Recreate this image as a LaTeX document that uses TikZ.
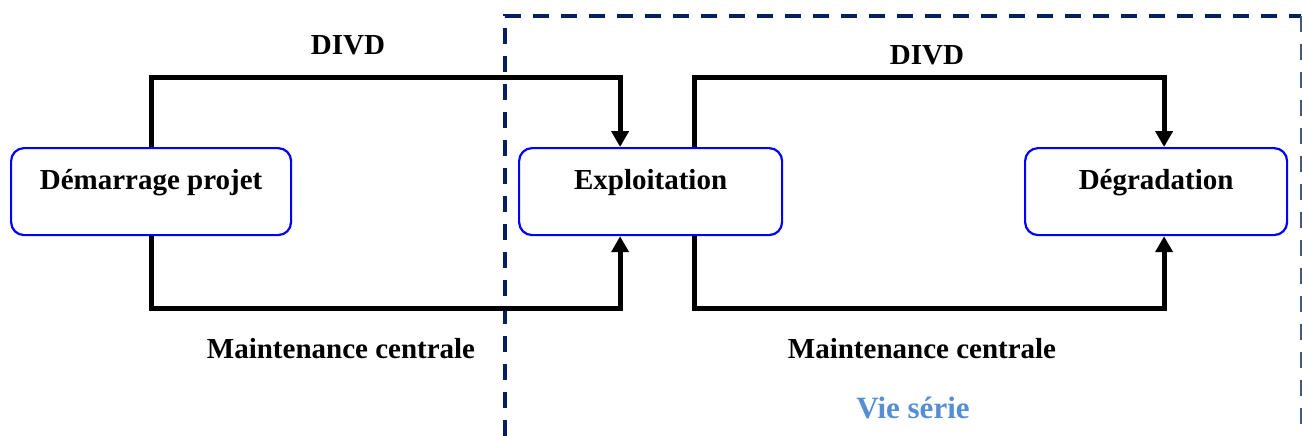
\documentclass[tikz,border=0pt]{standalone}
\usepackage{fontspec}
\setmainfont{Liberation Serif}
\usetikzlibrary{arrows.meta}
\definecolor{navyline}{HTML}{002060}
\definecolor{boxblue}{HTML}{0000FF}
\definecolor{vieblue}{HTML}{558ED5}
\tikzset{
  stage/.style={draw=boxblue, line width=2.2pt, rounded corners=13pt, inner sep=0pt,
    minimum width=#1, text height=41pt, text depth=46pt,
    font=\fontsize{29}{34}\selectfont\bfseries, anchor=north west},
  conn/.style={line width=5pt, line join=miter},
  arr/.style={conn, -{Triangle[length=16pt 0,width=17pt 0]}},
  lbl/.style={font=\fontsize{29}{34}\selectfont\bfseries, anchor=base, inner sep=0pt},
  frame/.style={draw=navyline, line width=3.5pt, dash pattern=on 16pt off 12pt}
}
\begin{document}
\begin{tikzpicture}[x=1pt,y=-1pt]
\useasboundingbox (0,0) rectangle (1302,436);
% stages
\node[stage=280pt] (b1) at (10,147) {Démarrage projet};
\node[stage=263pt] (b2) at (518,147) {Exploitation};
\node[stage=262pt] (b3) at (1024,147) {Dégradation};
% series-life frame
\coordinate (fbl) at (505,436);
\coordinate (ftl) at (505,16);
\coordinate (ftr) at (1301,16);
\coordinate (fbr) at (1301,436);
\draw[frame] (fbl) -- (ftl) -- (ftr);
\draw[frame, line width=2pt, draw=navyline!75] (ftr) -- (fbr);
% connectors
\draw[arr] (b1.north) -- ++(0,-69) -| ([xshift=-30.5pt]b2.north);
\draw[arr] (b1.south) -- ++(0,72) -| ([xshift=-30.5pt]b2.south);
\draw[arr] ([xshift=43.5pt]b2.north) -- ++(0,-69) -| ([xshift=8pt]b3.north);
\draw[arr] ([xshift=43.5pt]b2.south) -- ++(0,72) -| ([xshift=8pt]b3.south);
% labels
\node[lbl] (d1) at (348,55) {DIVD};
\node[lbl] (d2) at (927,65) {DIVD};
\node[lbl] (m1) at (341,358) {Maintenance centrale};
\node[lbl] (m2) at (922,358) {Maintenance centrale};
\node[lbl, text=vieblue, font=\fontsize{31}{36}\selectfont\bfseries] (vs) at (913,418) {Vie série};
\end{tikzpicture}
\end{document}
